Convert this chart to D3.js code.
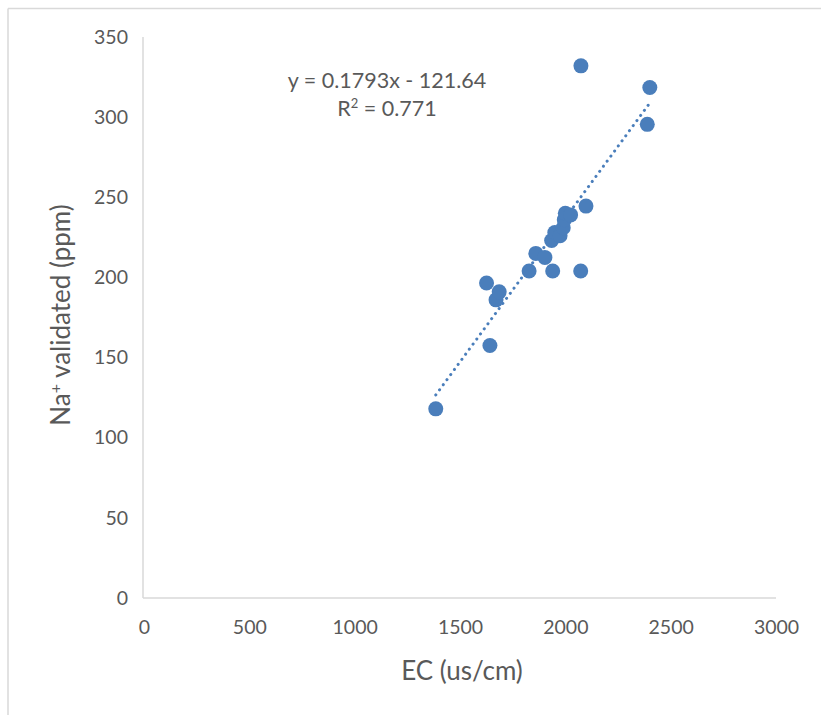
<!DOCTYPE html>
<html>
<head>
<meta charset="utf-8">
<script src="https://cdn.jsdelivr.net/npm/d3@7"></script>
<style>
  html, body { margin: 0; padding: 0; background: #ffffff; }
  svg { display: block; }
  text { font-family: Lato, "Open Sans", sans-serif; fill: #595959; }
</style>
</head>
<body>
<svg id="chart" width="821" height="715"></svg>
<script>
// EC (us/cm) against validated Na+ (ppm)
const ecValues = [1385, 1626, 1642, 1671, 1686, 1828, 1860, 1903, 1935, 1950, 1940, 1975, 1990, 1995, 2000, 2025, 2073, 2074, 2098, 2389, 2401];
const naValues = [118, 196.5, 157.5, 186, 191, 204, 215, 212.5, 223, 228, 204, 226, 231, 236, 240, 239, 204, 332, 244.5, 295.5, 318.5];

// Linear trendline as stated in the label
const trendSlope = 0.1793;
const trendIntercept = -121.64;
const trendR2 = 0.771;

const xTicks = [0, 500, 1000, 1500, 2000, 2500, 3000];
const yTicks = [0, 50, 100, 150, 200, 250, 300, 350];

const xTitle = "EC (us/cm)";
const yTitleMain = "Na";
const yTitleSup = "+";
const yTitleRest = " validated (ppm)";

const W = 821, H = 715;
const margin = { left: 144, right: 45, top: 37, bottom: 117 };

const svg = d3.select("#chart");
const axisColor = "#d9d9d9";
const markColor = "#4a7ebb";

// outer chart frame (top and left edges)
svg.append("line").attr("x1", 8).attr("y1", 8.5).attr("x2", W).attr("y2", 8.5)
  .attr("stroke", axisColor).attr("stroke-width", 1.5);
svg.append("line").attr("x1", 8).attr("y1", 8.5).attr("x2", 8).attr("y2", H)
  .attr("stroke", axisColor).attr("stroke-width", 1.5);

const x = d3.scaleLinear().domain([0, 3000]).range([margin.left, W - margin.right]);
const y = d3.scaleLinear().domain([0, 350]).range([H - margin.bottom, margin.top]);

// x axis
const xAxis = svg.append("g")
  .attr("transform", `translate(0,${y(0)})`)
  .call(d3.axisBottom(x).tickValues(xTicks).tickSize(0).tickPadding(22).tickFormat(d3.format("d")));
xAxis.select(".domain").attr("stroke", axisColor).attr("stroke-width", 1.5)
  .attr("d", `M${x(0) - 1},0H${x(3000)}`);
xAxis.selectAll("text").style("font-size", "19.5px").attr("fill", "#595959");

// y axis
const yAxis = svg.append("g")
  .attr("transform", `translate(${x(0) - 1},0)`)
  .call(d3.axisLeft(y).tickValues(yTicks).tickSize(0).tickPadding(15).tickFormat(d3.format("d")));
yAxis.select(".domain").attr("stroke", axisColor).attr("stroke-width", 1.5)
  .attr("d", `M0,${y(350)}V${y(0)}`);
yAxis.selectAll("text").style("font-size", "19.5px").attr("fill", "#595959");

// axis titles
svg.append("text")
  .attr("x", 462).attr("y", 680)
  .attr("text-anchor", "middle")
  .style("font-size", "26px")
  .text(xTitle);

const yt = svg.append("text")
  .attr("transform", "translate(70,315) rotate(-90)")
  .attr("text-anchor", "middle")
  .style("font-size", "26px");
yt.append("tspan").text(yTitleMain);
yt.append("tspan").attr("baseline-shift", "super").style("font-size", "16px").text(yTitleSup);
yt.append("tspan").text(yTitleRest);

// trendline over the data range
const xMin = d3.min(ecValues), xMax = d3.max(ecValues);
svg.append("line")
  .attr("x1", x(xMin)).attr("y1", y(trendSlope * xMin + trendIntercept))
  .attr("x2", x(xMax)).attr("y2", y(trendSlope * xMax + trendIntercept))
  .attr("stroke", markColor).attr("stroke-width", 3)
  .attr("stroke-linecap", "round").attr("stroke-dasharray", "0.1 6.2");

// points
svg.append("g").selectAll("circle")
  .data(d3.zip(ecValues, naValues))
  .join("circle")
  .attr("cx", d => x(d[0]))
  .attr("cy", d => y(d[1]))
  .attr("r", 7.5)
  .attr("fill", markColor);

// trendline equation label
const eq = svg.append("text")
  .attr("text-anchor", "middle")
  .style("font-size", "21.5px");
eq.append("tspan").attr("x", 387).attr("y", 88)
  .text(`y = ${trendSlope}x - ${Math.abs(trendIntercept)}`);
const r2 = eq.append("tspan").attr("x", 387).attr("y", 116);
r2.append("tspan").text("R");
r2.append("tspan").attr("baseline-shift", "super").style("font-size", "13px").text("2");
r2.append("tspan").text(` = ${trendR2}`);
</script>
</body>
</html>
